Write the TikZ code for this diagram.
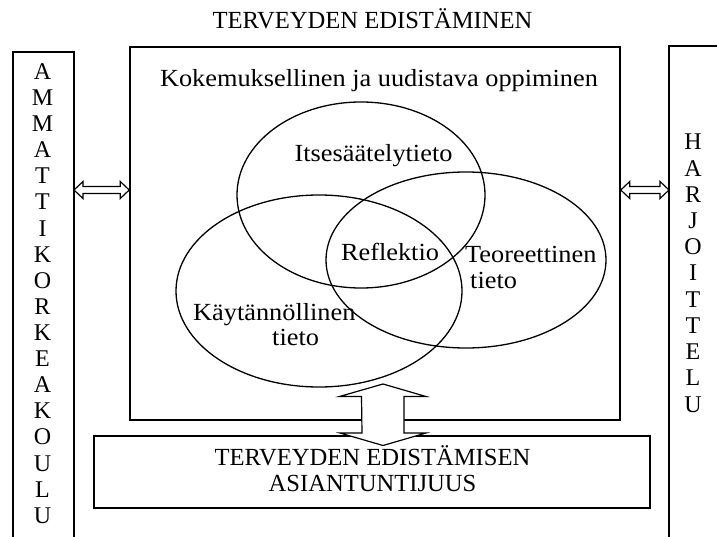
\documentclass[tikz,border=0pt]{standalone}
\usepackage{fontspec}
\usetikzlibrary{calc}
\setmainfont{Liberation Serif}
\newfontfamily\widefont{Liberation Serif}[FakeStretch=1.07]
\begin{document}
\begin{tikzpicture}[x=1bp,y=-1bp,
  frame/.style={draw,line width=1.5bp},
  oval/.style={draw,line width=1.3bp},
  arr/.style={draw,line width=1.2bp,fill=white,line join=miter},
  lc/.style={inner sep=0,font=\widefont\fontsize{24.6bp}{29bp}\selectfont},
  uc/.style={inner sep=0,anchor=base,font=\fontsize{24.6bp}{26bp}\selectfont},
  letter/.style={inner sep=0,anchor=base,font=\fontsize{24bp}{27bp}\selectfont}]
\useasboundingbox (0,0) rectangle (717,537);

% title
\node[uc] (title) at (372.5,29) {TERVEYDEN EDISTÄMINEN};

% side boxes (open at the bottom of the page)
\draw[frame] (13,537) -- (13,52) -- (74,52) -- (74,537);
\draw[frame] (669,537) -- (669,46) -- (717,46);
\coordinate (lbE) at (74,190);
\coordinate (rbW) at (669,190);

\foreach \ch [count=\i from 0] in {A,M,M,A,T,T,I,K,O,R,K,E,A,K,O,U,L,U}
  \node[letter] (L\i) at (42.5,79.5+26.1*\i) {\ch};
\foreach \ch [count=\i from 0] in {H,A,R,J,O,I,T,T,E,L,U}
  \node[letter] (R\i) at (693,150+26.2*\i) {\ch};

% main box
\node[frame,minimum width=490bp,minimum height=373bp,inner sep=0] (main) at (375,233.5) {};
\node[lc,anchor=base] (head) at (379,87) {Kokemuksellinen ja uudistava oppiminen};

% ellipses
\draw[oval] (361,195) ellipse [x radius=124, y radius=93];
\draw[oval] (466,260) ellipse [x radius=140, y radius=88];
\draw[oval] (319,291) ellipse [x radius=143, y radius=96];

\node[lc,anchor=base] (its) at (373.5,161.5) {Itsesäätelytieto};
\node[lc,anchor=base] (ref) at (390,261) {Reflektio};
\node[lc,anchor=base west] (teo1) at (465,262.5) {Teoreettinen};
\node[lc,anchor=base west] (teo2) at (470,288) {tieto};
\node[lc,anchor=base west] (kay1) at (193,320) {Käytännöllinen};
\node[lc,anchor=base west] (kay2) at (272,345) {tieto};

% bottom box
\node[frame,minimum width=556bp,minimum height=72bp,inner sep=0] (bot) at (372,472) {};
\node[uc] (bot1) at (372.5,465) {TERVEYDEN EDISTÄMISEN};
\node[uc] (bot2) at (372.5,491.5) {ASIANTUNTIJUUS};

% horizontal double arrows
\coordinate (mainW) at (main.west |- lbE);
\coordinate (mainE) at (main.east |- rbW);
\draw[arr] (lbE) -- ++(9,-8.5) -- ++(0,5) -- ($(mainW)+(-9,-3.5)$) -- ++(0,-5) -- (mainW)
  -- ++(-9,8.5) -- ++(0,-5) -- ($(lbE)+(9,3.5)$) -- ++(0,5) -- cycle;
\draw[arr] (mainE) -- ++(9,-8.5) -- ++(0,5) -- ($(rbW)+(-9,-3.5)$) -- ++(0,-5) -- (rbW)
  -- ++(-9,8.5) -- ++(0,-5) -- ($(mainE)+(9,3.5)$) -- ++(0,5) -- cycle;

% vertical double arrow between main box and bottom box
\coordinate (vt) at (383,384);
\coordinate (vb) at (383,445.5);
\draw[arr] (vt) -- ++(43,12.5) -- ++(-22,0) -- (404,433) -- ++(22,0) -- (vb)
  -- ++(-43,-12.5) -- ++(22,0) -- (361.5,396.5) -- ++(-22,0) -- cycle;
\end{tikzpicture}
\end{document}
